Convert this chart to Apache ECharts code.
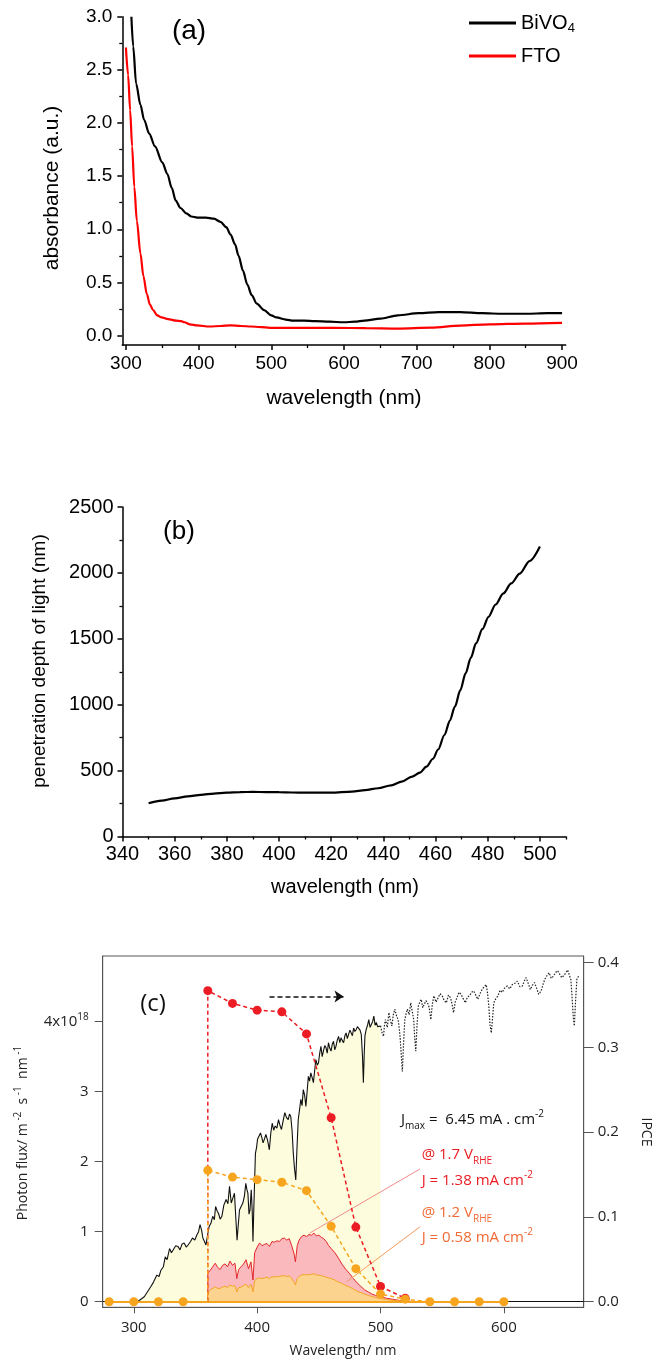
<!DOCTYPE html>
<html>
<head>
<meta charset="utf-8">
<title>BiVO4 absorbance, penetration depth and IPCE</title>
<script src="https://cdn.jsdelivr.net/npm/echarts@6/dist/echarts.min.js"></script>
<style>
  html, body { margin: 0; padding: 0; background: #fff; }
  #chart { width: 657px; height: 1360px; }
</style>
</head>
<body>
<div id="chart"></div>
<script>
// ---------- (a) absorbance spectra ----------
const bivo4Wl  = [307.5, 310, 314, 320, 325, 332, 340, 350, 357, 363, 368.5, 375, 383, 390, 398, 410, 421, 430, 438, 444, 450, 455, 461, 467, 473, 480, 490, 500, 507, 520, 530, 545, 560, 580, 600, 615, 628, 650, 674, 703, 730, 760, 790, 818, 850, 880, 900];
const bivo4Abs = [3.0, 2.72, 2.37, 2.17, 2.03, 1.90, 1.78, 1.63, 1.52, 1.39, 1.27, 1.20, 1.15, 1.12, 1.11, 1.11, 1.10, 1.07, 1.02, 0.95, 0.86, 0.75, 0.61, 0.48, 0.38, 0.30, 0.24, 0.19, 0.17, 0.15, 0.14, 0.14, 0.135, 0.13, 0.125, 0.13, 0.14, 0.16, 0.19, 0.21, 0.22, 0.22, 0.21, 0.205, 0.205, 0.21, 0.21];
const ftoWl  = [300, 303, 305.8, 308.5, 311.5, 315, 320, 324, 328.8, 333, 337.4, 343, 349, 358, 369, 376, 380.5, 388, 398, 415, 430, 444, 458, 472.6, 501, 550, 587, 630, 674, 720, 760, 800, 850, 900];
const ftoAbs = [2.71, 2.45, 2.12, 1.78, 1.40, 1.08, 0.77, 0.56, 0.39, 0.29, 0.24, 0.19, 0.17, 0.155, 0.14, 0.135, 0.125, 0.105, 0.095, 0.085, 0.09, 0.095, 0.09, 0.085, 0.072, 0.072, 0.072, 0.07, 0.066, 0.075, 0.094, 0.105, 0.113, 0.12];
const absXTicks = [300, 400, 500, 600, 700, 800, 900];
const absXMinor = [350, 450, 550, 650, 750, 850];
const absYTicks = [0, 0.5, 1.0, 1.5, 2.0, 2.5, 3.0];
const absYMinor = [0.25, 0.75, 1.25, 1.75, 2.25, 2.75];

// ---------- (b) penetration depth ----------
const depthWl = [350, 355, 360, 365, 370, 375, 380, 385, 390, 395, 400, 405, 410, 420, 428, 433, 438, 443, 447, 451, 454, 456.5, 459, 461, 463.4, 465.5, 467.4, 469.5, 471.5, 473.5, 475.5, 478, 480.3, 483, 486, 489, 492.3, 496, 500];
const depthNm = [252, 272, 290, 304, 316, 326, 333, 337, 338, 337, 336, 334, 333, 333, 341, 352, 366, 388, 417, 455, 485, 530, 590, 660, 770, 880, 985, 1110, 1237, 1355, 1465, 1575, 1667, 1760, 1845, 1920, 1995, 2090, 2200];
const depthXTicks = [340, 360, 380, 400, 420, 440, 460, 480, 500];
const depthXMinor = [350, 370, 390, 410, 430, 450, 470, 490, 510];
const depthYTicks = [0, 500, 1000, 1500, 2000, 2500];
const depthYMinor = [250, 750, 1250, 1750, 2250];

// ---------- (c) solar photon flux (x 1e18 m^-2 s^-1 nm^-1) and IPCE ----------
const fluxWl = [303, 308.5, 313.6, 316, 318.7, 320.5, 322, 324, 325.5, 327, 329, 330.5, 332, 334, 335.7, 337.5, 339, 340.8, 342.5, 344, 346, 347.6, 349.5, 351, 352.5, 353.7, 355, 356, 357.3, 358.5, 359.8, 361, 362.5, 364, 365.3, 366.3, 367.5, 368.7, 370, 371.4, 373, 374.8, 376.3, 377.6, 379, 380.3, 381.6, 382.7, 383.7, 384.7, 385.7, 387, 388.4, 389.6, 390.8, 391.7, 392.5, 393.4, 394.2, 395.2, 396, 396.6, 397.4, 398.6, 399.5, 400.3, 401.5, 402.7, 403.7, 404.8, 406, 407.1, 408.5, 409.9, 411, 412.2, 413.4, 414.6, 416, 417.3, 418.5, 419.7, 421, 422.4, 423.8, 425.2, 426.2, 427.2, 428.3, 429.3, 430.3, 431.3, 432.3, 433.3, 434.4, 435.4, 436.4, 437.4, 438.5, 439.5, 440.5, 441.5, 442.5, 443.5, 444.6, 445.6, 446.6, 447.6, 448.7, 449.7, 450.7, 451.7, 452.7, 453.7, 454.8, 455.8, 456.8, 457.8, 458.9, 459.9, 460.9, 461.9, 462.9, 463.9, 465, 466, 467, 468, 469, 470.1, 471.1, 472.1, 473.1, 474.1, 475.2, 476.2, 477.2, 478.2, 479.2, 480.3, 481.3, 482.3, 483.4, 484.4, 485.4, 486.1, 486.8, 487.4, 488.4, 489.5, 490.5, 491.5, 492.5, 493.6, 494.6, 495.6, 496.6, 497.6, 498.6, 500];
const fluxVal = [0, 0.07, 0.21, 0.28, 0.38, 0.36, 0.45, 0.50, 0.64, 0.60, 0.76, 0.70, 0.72, 0.80, 0.79, 0.74, 0.82, 0.84, 0.78, 0.81, 0.86, 0.91, 0.88, 0.95, 1.00, 1.10, 1.02, 0.91, 0.86, 0.81, 0.95, 1.07, 1.12, 1.22, 1.17, 1.36, 1.30, 1.26, 1.18, 1.22, 1.38, 1.46, 1.40, 1.65, 1.41, 1.48, 1.55, 1.20, 0.88, 1.10, 1.31, 1.36, 1.41, 1.50, 1.69, 1.60, 1.55, 1.25, 1.31, 1.60, 1.30, 0.86, 1.40, 2.12, 2.20, 2.32, 2.30, 2.41, 2.35, 2.27, 2.33, 2.39, 2.30, 2.17, 2.40, 2.55, 2.45, 2.51, 2.48, 2.60, 2.52, 2.46, 2.58, 2.70, 2.63, 2.60, 2.68, 2.65, 2.45, 2.12, 1.90, 1.74, 2.20, 2.60, 2.75, 2.89, 2.80, 3.03, 2.95, 2.79, 3.00, 3.22, 3.15, 3.27, 3.20, 3.13, 3.30, 3.46, 3.38, 3.41, 3.55, 3.65, 3.50, 3.58, 3.66, 3.63, 3.55, 3.70, 3.62, 3.58, 3.68, 3.72, 3.60, 3.65, 3.74, 3.79, 3.70, 3.77, 3.73, 3.70, 3.80, 3.84, 3.76, 3.82, 3.88, 3.87, 3.80, 3.91, 3.86, 3.89, 3.93, 3.94, 3.88, 3.82, 3.50, 3.13, 3.55, 3.80, 3.89, 3.95, 4.03, 3.92, 3.94, 4.00, 4.08, 3.95, 3.99, 3.93, 3.91, 3.94];
const fluxTailWl = [500, 501.2, 502.4, 503.2, 504, 505.5, 506.8, 508, 509.2, 510.4, 511.6, 513, 514.3, 515.2, 516, 516.9, 517.7, 518.7, 519.7, 520.8, 521.8, 523.2, 524.5, 525.7, 526.9, 527.8, 528.6, 529.6, 530.6, 531.8, 533, 534.2, 535.4, 536.8, 538.1, 539.5, 540.8, 542, 543.2, 545, 546.6, 548.3, 550, 551.7, 553.4, 555, 556.8, 558, 559.2, 560.5, 561.9, 563.6, 565.3, 567, 568.7, 570.4, 572.1, 573.8, 575.5, 577.2, 578.9, 580.6, 582.3, 584, 585.7, 586.8, 587.8, 588.8, 589.8, 590.8, 591.8, 593.5, 595.2, 596.9, 598.6, 600.6, 602.7, 604.8, 606.8, 608.9, 610.9, 613, 615, 616.5, 618, 619.7, 621.4, 623.1, 624.8, 626.5, 628.2, 629.4, 630.6, 632, 633.3, 635, 636.7, 638.4, 640.1, 641.8, 643.5, 645.2, 646.9, 648.6, 650.3, 651.7, 653.1, 654.3, 655.4, 656.3, 657.1, 658.1, 659.2, 660.5];
const fluxTailVal = [3.94, 3.85, 3.79, 3.95, 4.03, 3.92, 4.13, 4.02, 3.94, 4.10, 4.18, 4.08, 4.03, 3.90, 3.75, 3.50, 3.29, 3.70, 4.03, 4.12, 4.18, 4.10, 4.27, 4.15, 4.03, 3.75, 3.58, 3.95, 4.22, 4.28, 4.32, 4.20, 4.18, 4.30, 4.27, 4.20, 4.03, 4.25, 4.37, 4.28, 4.30, 4.40, 4.37, 4.30, 4.27, 4.38, 4.34, 4.25, 4.13, 4.28, 4.34, 4.42, 4.39, 4.33, 4.27, 4.35, 4.37, 4.42, 4.44, 4.38, 4.32, 4.40, 4.46, 4.50, 4.53, 4.40, 4.22, 3.95, 3.84, 4.05, 4.27, 4.33, 4.37, 4.45, 4.42, 4.48, 4.51, 4.47, 4.53, 4.55, 4.58, 4.50, 4.51, 4.58, 4.63, 4.55, 4.46, 4.52, 4.56, 4.48, 4.39, 4.42, 4.46, 4.55, 4.61, 4.66, 4.70, 4.62, 4.65, 4.70, 4.73, 4.68, 4.63, 4.66, 4.70, 4.74, 4.75, 4.60, 4.32, 4.05, 3.94, 4.30, 4.61, 4.65];

// absorbed photon flux (IPCE x flux) at the two potentials
const absorbedWl = [360, 360, 362, 364, 366, 368, 370, 372, 374, 376, 378, 380, 382, 383.5, 385, 387, 389, 391, 393, 395, 396.6, 398, 400, 402, 404, 406, 408, 410, 412, 414, 416, 418, 420, 422, 424, 426, 428, 430, 431, 432.5, 434, 436, 438, 440, 442, 444, 446, 448, 450, 452, 454, 456, 458, 460, 463, 466, 469, 472, 475, 478, 481, 484, 487, 490, 493, 496, 500, 505, 510, 515, 520, 525, 530];
const absorbedHigh = [0, 0.41, 0.45, 0.50, 0.55, 0.49, 0.46, 0.52, 0.54, 0.50, 0.58, 0.52, 0.55, 0.33, 0.46, 0.50, 0.54, 0.60, 0.47, 0.57, 0.31, 0.70, 0.78, 0.84, 0.80, 0.82, 0.83, 0.79, 0.86, 0.85, 0.87, 0.86, 0.90, 0.91, 0.88, 0.90, 0.80, 0.68, 0.57, 0.80, 0.88, 0.93, 0.95, 0.93, 0.96, 0.95, 0.98, 0.94, 0.95, 0.92, 0.90, 0.86, 0.80, 0.76, 0.70, 0.62, 0.53, 0.46, 0.40, 0.33, 0.27, 0.22, 0.17, 0.14, 0.11, 0.09, 0.07, 0.05, 0.035, 0.02, 0.01, 0.004, 0];
const absorbedLow = [0, 0.14, 0.17, 0.19, 0.21, 0.19, 0.19, 0.21, 0.22, 0.20, 0.24, 0.22, 0.23, 0.14, 0.20, 0.21, 0.23, 0.25, 0.20, 0.25, 0.14, 0.30, 0.33, 0.34, 0.33, 0.34, 0.35, 0.33, 0.36, 0.35, 0.36, 0.36, 0.37, 0.37, 0.36, 0.37, 0.33, 0.28, 0.24, 0.33, 0.36, 0.38, 0.39, 0.38, 0.39, 0.39, 0.40, 0.38, 0.38, 0.37, 0.36, 0.35, 0.34, 0.33, 0.31, 0.28, 0.26, 0.23, 0.21, 0.18, 0.15, 0.13, 0.11, 0.09, 0.075, 0.06, 0.045, 0.03, 0.02, 0.012, 0.006, 0.002, 0];

const ipceHighWl = [360, 380, 400, 420, 440, 460, 480, 500, 520];
const ipceHigh   = [0.367, 0.352, 0.344, 0.342, 0.316, 0.217, 0.088, 0.018, 0.004];
const ipceLowWl  = [280, 300, 320, 340, 360, 380, 400, 420, 440, 460, 480, 500, 520, 540, 560, 580, 600];
const ipceLow    = [0, 0, 0, 0, 0.155, 0.147, 0.144, 0.141, 0.131, 0.089, 0.039, 0.009, 0.003, 0, 0, 0, 0];

const specXTicks = [300, 400, 500, 600];
const fluxYTicks = [0, 1, 2, 3, 4];
const ipceYTicks = [0, 0.1, 0.2, 0.3, 0.4];

// ---------- helpers ----------
const FONT_A = "'Liberation Sans', Arial, sans-serif";
const FONT_C = "'Open Sans', 'Noto Sans', sans-serif";
const RED = '#ec1c24';
const ORANGE = '#f7a51e';
const pairs = (xs, ys) => xs.map((x, i) => [x, ys[i]]);
const ipcePoints = (xs, ys) => {
  const out = [];
  xs.forEach((x, i) => {
    if (x === 360) out.push({ value: [360, 0], symbol: 'none' });
    out.push([x, ys[i]]);
  });
  return out;
};

function valueAxis(o) {
  return Object.assign({
    type: 'value',
    splitLine: { show: false },
    axisLine: { show: true, onZero: false, lineStyle: { color: '#000', width: 1.5 } }
  }, o);
}
// second axis on the same side, carrying only the short minor ticks
function minorAxis(o, ticks) {
  return Object.assign({
    type: 'value',
    offset: 0,
    splitLine: { show: false },
    axisLine: { show: false, onZero: false },
    axisLabel: { show: false },
    axisTick: { show: true, customValues: ticks, length: 3, lineStyle: { color: '#000', width: 1.3 } }
  }, o);
}
function majorTicks(ticks, len, color, width) {
  return { show: true, customValues: ticks, length: len, lineStyle: { color: color, width: width } };
}

const chart = echarts.init(document.getElementById('chart'), null, { renderer: 'canvas' });

const option = {
  animation: false,
  backgroundColor: '#fff',
  grid: [
    { left: 122.3, top: 16.7, width: 443.4, height: 328.3 },
    { left: 122.5, top: 507, width: 443.5, height: 329.5 },
    { left: 102.7, top: 956, width: 481, height: 351.3, show: true, borderColor: '#555', borderWidth: 1, backgroundColor: 'transparent' }
  ],
  legend: {
    data: ['BiVO4', 'FTO'],
    orient: 'vertical',
    left: 464, top: 6,
    icon: 'rect',
    itemWidth: 47, itemHeight: 3, itemGap: 9,
    textStyle: {
      fontFamily: FONT_A, fontSize: 20, color: '#000', lineHeight: 24,
      rich: {
        b: { fontFamily: FONT_A, fontSize: 20, color: '#000', lineHeight: 24 },
        s: { fontFamily: FONT_A, fontSize: 13, color: '#000', lineHeight: 14, verticalAlign: 'bottom' }
      }
    },
    formatter: name => name === 'BiVO4' ? '{b|BiVO}{s|4}' : '{b|' + name + '}'
  },
  xAxis: [
    valueAxis({
      gridIndex: 0, position: 'bottom', min: 295, max: 905,
      axisTick: majorTicks(absXTicks, 5, '#000', 1.5),
      axisLabel: { customValues: absXTicks, margin: 9, fontFamily: FONT_A, fontSize: 19, color: '#000' }
    }),
    minorAxis({ gridIndex: 0, position: 'bottom', min: 295, max: 905 }, absXMinor),
    valueAxis({
      gridIndex: 1, position: 'bottom', min: 340, max: 510,
      axisTick: majorTicks(depthXTicks, 5, '#000', 1.5),
      axisLabel: { customValues: depthXTicks, margin: 8, fontFamily: FONT_A, fontSize: 20, color: '#000' }
    }),
    minorAxis({ gridIndex: 1, position: 'bottom', min: 340, max: 510 }, depthXMinor),
    valueAxis({
      gridIndex: 2, position: 'bottom', min: 274.8, max: 664.7,
      axisLine: { show: true, onZero: false, lineStyle: { color: '#555', width: 1 } },
      axisTick: majorTicks(specXTicks, 6, '#555', 1),
      axisLabel: { customValues: specXTicks, margin: 13, fontFamily: FONT_C, fontSize: 15, color: '#222' }
    })
  ],
  yAxis: [
    valueAxis({
      gridIndex: 0, position: 'left', min: -0.089, max: 3.0,
      axisTick: majorTicks(absYTicks, 5, '#000', 1.5),
      axisLabel: { customValues: absYTicks, margin: 10, fontFamily: FONT_A, fontSize: 19, color: '#000', formatter: v => v.toFixed(1) }
    }),
    minorAxis({ gridIndex: 0, position: 'left', min: -0.089, max: 3.0 }, absYMinor),
    valueAxis({
      gridIndex: 1, position: 'left', min: 0, max: 2500,
      axisTick: majorTicks(depthYTicks, 5, '#000', 1.5),
      axisLabel: { customValues: depthYTicks, margin: 9, fontFamily: FONT_A, fontSize: 20, color: '#000', formatter: v => String(v) }
    }),
    minorAxis({ gridIndex: 1, position: 'left', min: 0, max: 2500 }, depthYMinor),
    valueAxis({
      gridIndex: 2, position: 'left', min: -0.08, max: 4.939,
      axisLine: { show: true, onZero: false, lineStyle: { color: '#555', width: 1 } },
      axisTick: majorTicks(fluxYTicks, 8, '#555', 1),
      axisLabel: {
        customValues: fluxYTicks, margin: 14, fontFamily: FONT_C, fontSize: 15, color: '#222',
        formatter: v => v === 4 ? '{m|4x10}{s|18}' : '{m|' + v + '}',
        rich: {
          m: { fontFamily: FONT_C, fontSize: 15, color: '#222', lineHeight: 20 },
          s: { fontFamily: FONT_C, fontSize: 10, color: '#222', lineHeight: 10, verticalAlign: 'top' }
        }
      }
    }),
    valueAxis({
      gridIndex: 2, position: 'right', min: -0.0066, max: 0.4079,
      axisLine: { show: true, onZero: false, lineStyle: { color: '#555', width: 1 } },
      axisTick: majorTicks(ipceYTicks, 10, '#555', 1),
      axisLabel: { customValues: ipceYTicks, margin: 14, fontFamily: FONT_C, fontSize: 15, color: '#222', formatter: v => v.toFixed(1) }
    })
  ],
  series: [
    // (a)
    {
      name: 'BiVO4', type: 'line', xAxisIndex: 0, yAxisIndex: 0, color: '#000',
      data: pairs(bivo4Wl, bivo4Abs), showSymbol: false, smooth: 0.3, smoothMonotone: 'x',
      lineStyle: { color: '#000', width: 2.2 }
    },
    {
      name: 'FTO', type: 'line', xAxisIndex: 0, yAxisIndex: 0, color: '#ff0000',
      data: pairs(ftoWl, ftoAbs), showSymbol: false, smooth: 0.3, smoothMonotone: 'x',
      lineStyle: { color: '#ff0000', width: 2.2 }
    },
    // (b)
    {
      name: 'depth', type: 'line', xAxisIndex: 2, yAxisIndex: 2,
      data: pairs(depthWl, depthNm), showSymbol: false, smooth: 0.3, smoothMonotone: 'x',
      lineStyle: { color: '#000', width: 2.2 }
    },
    // (c) solar spectrum, filled up to 500 nm
    {
      name: 'flux', type: 'line', xAxisIndex: 4, yAxisIndex: 4, z: 2,
      data: pairs(fluxWl, fluxVal), showSymbol: false,
      lineStyle: { color: '#111', width: 1.1 },
      areaStyle: { color: '#fdfddd', opacity: 1 },
      markLine: {
        silent: true, animation: false, label: { show: false },
        symbol: ['none', 'none'],
        lineStyle: { color: '#111', width: 1, type: 'solid' },
        data: [{ yAxis: 0 }]
      }
    },
    {
      name: 'flux tail', type: 'line', xAxisIndex: 4, yAxisIndex: 4, z: 2,
      data: pairs(fluxTailWl, fluxTailVal), showSymbol: false,
      lineStyle: { color: '#222', width: 1.2, type: [1.5, 1.5] },
      markLine: {
        silent: true, animation: false, label: { show: false },
        symbol: ['none', 'arrow'], symbolSize: 9,
        lineStyle: { color: '#111', width: 1.6, type: [5, 3] },
        data: [[{ coord: [410, 4.36] }, { coord: [470, 4.36] }]]
      }
    },
    {
      name: 'absorbed 1.7 V', type: 'line', xAxisIndex: 4, yAxisIndex: 4, z: 3,
      data: pairs(absorbedWl, absorbedHigh), showSymbol: false,
      lineStyle: { color: '#e3262d', width: 1 },
      areaStyle: { color: '#fab9bd', opacity: 1 },
      markLine: {
        silent: true, animation: false, label: { show: false }, symbol: ['none', 'none'],
        lineStyle: { color: '#f28b8b', width: 1, type: 'solid' },
        data: [[{ coord: [532, 1.896] }, { coord: [442.6, 0.98] }]]
      }
    },
    {
      name: 'absorbed 1.2 V', type: 'line', xAxisIndex: 4, yAxisIndex: 4, z: 4,
      data: pairs(absorbedWl, absorbedLow), showSymbol: false,
      lineStyle: { color: '#f2a623', width: 1 },
      areaStyle: { color: '#fcd38e', opacity: 1 },
      markLine: {
        silent: true, animation: false, label: { show: false }, symbol: ['none', 'none'],
        lineStyle: { color: '#f39a5a', width: 1, type: 'solid' },
        data: [[{ coord: [532, 1.07] }, { coord: [472.7, 0.286] }]]
      }
    },
    {
      name: 'IPCE 1.7 V', type: 'line', xAxisIndex: 4, yAxisIndex: 5, z: 6,
      data: ipcePoints(ipceHighWl, ipceHigh),
      symbol: 'circle', symbolSize: 9, showSymbol: true,
      itemStyle: { color: RED },
      lineStyle: { color: RED, width: 1.5, type: [4, 3] }
    },
    {
      name: 'IPCE 1.2 V', type: 'line', xAxisIndex: 4, yAxisIndex: 5, z: 7,
      data: ipcePoints(ipceLowWl, ipceLow),
      symbol: 'circle', symbolSize: 9, showSymbol: true,
      itemStyle: { color: ORANGE },
      lineStyle: { color: ORANGE, width: 1.5, type: [4, 3] },
      markLine: {
        silent: true, animation: false, label: { show: false }, symbol: ['none', 'none'],
        lineStyle: { color: ORANGE, width: 2, type: 'solid' },
        data: [[{ coord: [280, 0] }, { coord: [600, 0] }]]
      }
    }
  ],
  graphic: [
    // (a) labels
    { type: 'text', x: 189, y: 31, style: { text: '(a)', fontFamily: FONT_A, fontSize: 28, fill: '#000', align: 'center', verticalAlign: 'middle' } },
    { type: 'text', x: 52, y: 188, rotation: Math.PI / 2, style: { text: 'absorbance (a.u.)', fontFamily: FONT_A, fontSize: 21, fill: '#000', align: 'center', verticalAlign: 'middle' } },
    { type: 'text', x: 344, y: 398, style: { text: 'wavelength (nm)', fontFamily: FONT_A, fontSize: 21, fill: '#000', align: 'center', verticalAlign: 'middle' } },
    // (b) labels
    { type: 'text', x: 179, y: 532, style: { text: '(b)', fontFamily: FONT_A, fontSize: 26, fill: '#000', align: 'center', verticalAlign: 'middle' } },
    { type: 'text', x: 40, y: 661, rotation: Math.PI / 2, style: { text: 'penetration depth of light (nm)', fontFamily: FONT_A, fontSize: 19, fill: '#000', align: 'center', verticalAlign: 'middle' } },
    { type: 'text', x: 345, y: 887, style: { text: 'wavelength (nm)', fontFamily: FONT_A, fontSize: 20, fill: '#000', align: 'center', verticalAlign: 'middle' } },
    // (c) labels
    { type: 'text', x: 153, y: 1004, z: 10, style: { text: '(c)', fontFamily: FONT_C, fontSize: 24, fill: '#111', align: 'center', verticalAlign: 'middle' } },
    { type: 'text', x: 23, y: 1133, rotation: Math.PI / 2, style: {
      text: '{t|Photon flux/ m}{s| -2}{t|  s}{s| -1}{t|  nm}{s| -1}',
      rich: {
        t: { fontFamily: FONT_C, fontSize: 14, fill: '#222', lineHeight: 20 },
        s: { fontFamily: FONT_C, fontSize: 10, fill: '#222', lineHeight: 10, verticalAlign: 'top' }
      },
      align: 'center', verticalAlign: 'middle' } },
    { type: 'text', x: 646, y: 1132, rotation: -Math.PI / 2, style: { text: 'IPCE', fontFamily: FONT_C, fontSize: 14, fill: '#222', align: 'center', verticalAlign: 'middle' } },
    { type: 'text', x: 343, y: 1351, style: { text: 'Wavelength/ nm', fontFamily: FONT_C, fontSize: 14, fill: '#222', align: 'center', verticalAlign: 'middle' } },
    { type: 'text', x: 401, y: 1120, z: 10, style: {
      text: '{t|J}{b|max}{t| =  6.45 mA . cm}{s|-2}',
      rich: {
        t: { fontFamily: FONT_C, fontSize: 15, fill: '#111', lineHeight: 22 },
        b: { fontFamily: FONT_C, fontSize: 10, fill: '#111', lineHeight: 12, verticalAlign: 'bottom' },
        s: { fontFamily: FONT_C, fontSize: 10, fill: '#111', lineHeight: 10, verticalAlign: 'top' }
      },
      align: 'left', verticalAlign: 'middle' } },
    { type: 'text', x: 421.7, y: 1155, z: 10, style: {
      text: '{t|@ 1.7 V}{b|RHE}',
      rich: {
        t: { fontFamily: FONT_C, fontSize: 15, fill: RED, lineHeight: 22 },
        b: { fontFamily: FONT_C, fontSize: 10, fill: RED, lineHeight: 12, verticalAlign: 'bottom' }
      },
      align: 'left', verticalAlign: 'middle' } },
    { type: 'text', x: 421.7, y: 1181, z: 10, style: {
      text: '{t|J = 1.38 mA cm}{s|-2}',
      rich: {
        t: { fontFamily: FONT_C, fontSize: 15, fill: RED, lineHeight: 22 },
        s: { fontFamily: FONT_C, fontSize: 10, fill: RED, lineHeight: 10, verticalAlign: 'top' }
      },
      align: 'left', verticalAlign: 'middle' } },
    { type: 'text', x: 421.7, y: 1213, z: 10, style: {
      text: '{t|@ 1.2 V}{b|RHE}',
      rich: {
        t: { fontFamily: FONT_C, fontSize: 15, fill: '#f06a35', lineHeight: 22 },
        b: { fontFamily: FONT_C, fontSize: 10, fill: '#f06a35', lineHeight: 12, verticalAlign: 'bottom' }
      },
      align: 'left', verticalAlign: 'middle' } },
    { type: 'text', x: 421.7, y: 1238, z: 10, style: {
      text: '{t|J = 0.58 mA cm}{s|-2}',
      rich: {
        t: { fontFamily: FONT_C, fontSize: 15, fill: '#f06a35', lineHeight: 22 },
        s: { fontFamily: FONT_C, fontSize: 10, fill: '#f06a35', lineHeight: 10, verticalAlign: 'top' }
      },
      align: 'left', verticalAlign: 'middle' } }
  ]
};

chart.setOption(option);
</script>
</body>
</html>
